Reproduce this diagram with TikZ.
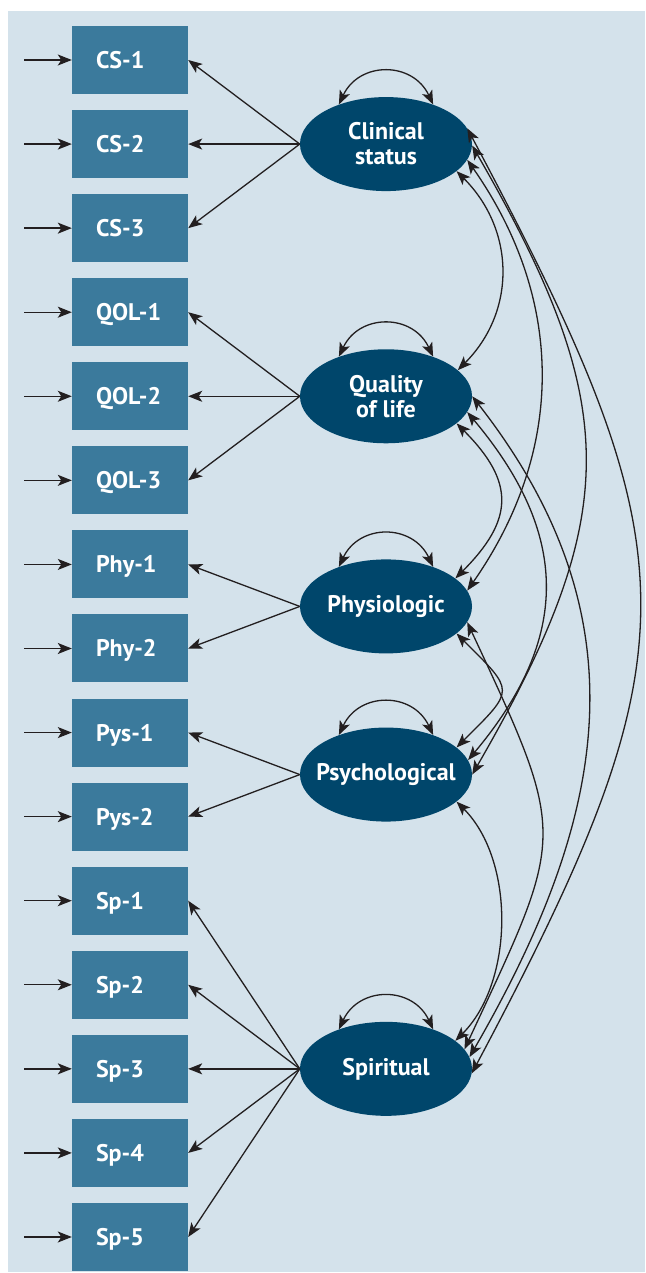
\documentclass[tikz,border=0pt]{standalone}
\usepackage{fontspec}
\setmainfont{PT Sans}
\usetikzlibrary{arrows.meta,positioning,shapes.geometric}
\definecolor{panel}{HTML}{D4E2EB}
\definecolor{boxblue}{HTML}{3B7A9C}
\definecolor{latentblue}{HTML}{00466B}
\definecolor{linegray}{HTML}{231F20}

\begin{document}
\begin{tikzpicture}[x=1pt,y=1pt,node distance=84.07pt,on grid,
  >={Stealth[length=14pt,width=11pt,inset=3.5pt]},
  every edge/.style={draw=linegray,line width=1.3pt},
  indicator/.style={rectangle,fill=boxblue,text=white,minimum width=116pt,
    minimum height=68pt,inner xsep=24pt,inner ysep=0pt,text width=68pt,
    align=left,text height=17pt,text depth=0pt,
    font=\fontsize{24}{25}\selectfont\bfseries},
  factor/.style={ellipse,fill=latentblue,text=white,minimum width=172pt,
    minimum height=94pt,inner sep=-10pt,align=center,
    font=\fontsize{24}{25}\selectfont\bfseries}]
  \useasboundingbox (0,0) rectangle (645,-1273);
  \fill[panel] (7.5,-10.7) rectangle (645,-1272);

  \node[indicator] (cs1) at (130,-60)  {CS-1};
  \node[indicator] (cs2)  [below=of cs1]  {CS-2};
  \node[indicator] (cs3)  [below=of cs2]  {CS-3};
  \node[indicator] (qol1) [below=of cs3]  {QOL-1};
  \node[indicator] (qol2) [below=of qol1] {QOL-2};
  \node[indicator] (qol3) [below=of qol2] {QOL-3};
  \node[indicator] (phy1) [below=of qol3] {Phy-1};
  \node[indicator] (phy2) [below=of phy1] {Phy-2};
  \node[indicator] (pys1) [below=of phy2] {Pys-1};
  \node[indicator] (pys2) [below=of pys1] {Pys-2};
  \node[indicator] (sp1)  [below=of pys2] {Sp-1};
  \node[indicator] (sp2)  [below=of sp1]  {Sp-2};
  \node[indicator] (sp3)  [below=of sp2]  {Sp-3};
  \node[indicator] (sp4)  [below=of sp3]  {Sp-4};
  \node[indicator] (sp5)  [below=of sp4]  {Sp-5};

  \node[factor] (clin) [right=256pt of cs2]  {Clinical\\status};
  \node[factor] (qol)  [right=256pt of qol2] {Quality\\of life};
  \node[factor] (phy)  [below right=42pt and 256pt of phy1] {Physiologic};
  \node[factor] (psy)  [below right=42pt and 256pt of pys1] {Psychological};
  \node[factor] (spi)  [right=256pt of sp3]  {Spiritual};

  % error terms
  \coordinate[left=106pt of cs1]  (e1);
  \coordinate[left=106pt of cs2]  (e2);
  \coordinate[left=106pt of cs3]  (e3);
  \coordinate[left=106pt of qol1] (e4);
  \coordinate[left=106pt of qol2] (e5);
  \coordinate[left=106pt of qol3] (e6);
  \coordinate[left=106pt of phy1] (e7);
  \coordinate[left=106pt of phy2] (e8);
  \coordinate[left=106pt of pys1] (e9);
  \coordinate[left=106pt of pys2] (e10);
  \coordinate[left=106pt of sp1]  (e11);
  \coordinate[left=106pt of sp2]  (e12);
  \coordinate[left=106pt of sp3]  (e13);
  \coordinate[left=106pt of sp4]  (e14);
  \coordinate[left=106pt of sp5]  (e15);

  \path[->] (e1) edge (cs1)
            (e2) edge (cs2)
            (e3) edge (cs3)
            (e4) edge (qol1)
            (e5) edge (qol2)
            (e6) edge (qol3)
            (e7) edge (phy1)
            (e8) edge (phy2)
            (e9) edge (pys1)
            (e10) edge (pys2)
            (e11) edge (sp1)
            (e12) edge (sp2)
            (e13) edge (sp3)
            (e14) edge (sp4)
            (e15) edge (sp5)
            (clin.west) edge (cs1.east)
            (clin.west) edge (cs2.east)
            (clin.west) edge (cs3.east)
            (qol.west) edge (qol1.east)
            (qol.west) edge (qol2.east)
            (qol.west) edge (qol3.east)
            (phy.west) edge (phy1.east)
            (phy.west) edge (phy2.east)
            (psy.west) edge (pys1.east)
            (psy.west) edge (pys2.east)
            (spi.west) edge (sp1.east)
            (spi.west) edge (sp2.east)
            (spi.west) edge (sp3.east)
            (spi.west) edge (sp4.east)
            (spi.west) edge (sp5.east);

  % variances and covariances
  \path[<->] (clin.140) edge [out=65,in=115,distance=48pt] (clin.40)
             (qol.140) edge [out=65,in=115,distance=48pt] (qol.40)
             (phy.140) edge [out=65,in=115,distance=48pt] (phy.40)
             (psy.140) edge [out=65,in=115,distance=48pt] (psy.40)
             (spi.140) edge [out=65,in=115,distance=48pt] (spi.40)
             (clin.-21) edge [out=-45,in=45,distance=83pt] (qol.20)
             (qol.-21) edge [out=-45,in=45,distance=83pt] (phy.22)
             (phy.-21) edge [out=-45,in=45,distance=83pt] (psy.21)
             (psy.-21) edge [out=-45,in=45,distance=83pt] (spi.22)
             (clin.-11) edge [out=-55,in=55,distance=171pt] (phy.11)
             (clin.-1) edge [out=-60,in=60,distance=301pt] (psy.0)
             (clin.11) edge [out=-62,in=62,distance=483pt] (spi.-3)
             (qol.-11) edge [out=-50,in=50,distance=160pt] (psy.10)
             (qol.0) edge [out=-52,in=60,distance=280pt] (spi.8)
             (phy.-11) edge [out=-65,in=65,distance=240pt] (spi.14);
\end{tikzpicture}
\end{document}
